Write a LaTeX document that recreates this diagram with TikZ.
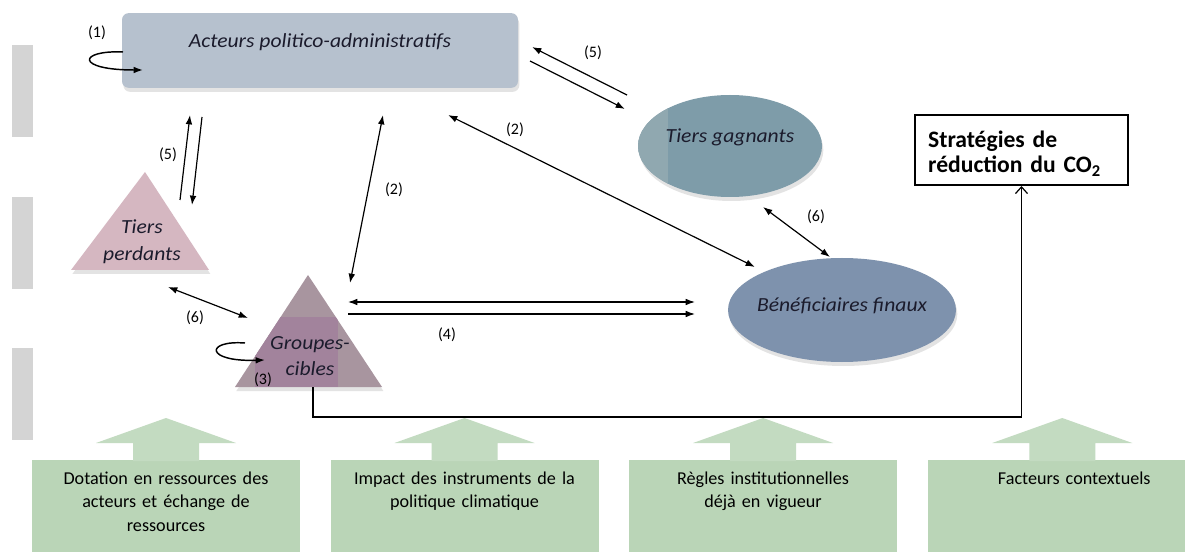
\documentclass[tikz,border=0pt]{standalone}
\usepackage{fontspec}
\setmainfont{Carlito}
\newfontfamily\shapefont[FakeStretch=1.08]{Carlito}
\usetikzlibrary{positioning, calc, arrows.meta, shapes.geometric, shadows}

\definecolor{acteurfill}{HTML}{B6C1CE}
\definecolor{perdfill}{HTML}{D5B7C1}
\definecolor{ciblegray}{HTML}{A8959F}
\definecolor{ciblemauve}{HTML}{A2839C}
\definecolor{gagnfill}{HTML}{7E9CA9}
\definecolor{gagnlight}{HTML}{90A8B0}
\definecolor{benefill}{HTML}{7E92AD}
\definecolor{facgreen}{HTML}{BAD5B7}
\definecolor{arrgreen}{HTML}{C3DBC1}
\definecolor{bargray}{HTML}{D4D4D4}
\definecolor{inkdark}{HTML}{1B1B2C}

\begin{document}
\begin{tikzpicture}[
    x=0.75pt, y=-0.75pt,
    soft/.style = {drop shadow={opacity=.22, shadow xshift=1pt, shadow yshift=-3pt}},
    actor/.style = {font=\shapefont\itshape\fontsize{15}{20}\selectfont, text=inkdark, inner sep=0pt, align=center},
    num/.style = {font=\fontsize{12}{14}\selectfont, inner sep=1pt},
    link/.style = {draw, line width=0.9pt, -{Latex[length=7pt, width=5pt]}},
    both/.style = {link, {Latex[length=7pt, width=5pt]}-{Latex[length=7pt, width=5pt]}},
    loopy/.style = {link, line width=1.1pt},
    factor/.style = {fill=facgreen, text width=201pt, align=center, inner sep=0pt,
        text height=18pt, text depth=80pt, anchor=north, font=\fontsize{13.6}{17.6}\selectfont}
]
    \useasboundingbox (0,0) rectangle (1185,552);
    \fill[white] (0,0) rectangle (1185,552);

    % grey tabs on the left
    \foreach \top in {45,197,348}
        \fill[bargray] (12,\top) rectangle (33,\top+92);

    \node (acteurs) [actor, fill=acteurfill, soft, rounded corners=5pt, minimum width=297pt,
        minimum height=56pt, text height=11pt, text depth=16.2pt] at (320,50.5)
        {Acteurs politico-administratifs};
    \node (gagnants) [actor, ellipse, fill=gagnfill, soft, minimum width=138pt, minimum height=76.5pt,
        inner xsep=-8pt, text height=11pt, text depth=15.5pt,
        path picture={\fill[gagnlight] (path picture bounding box.south west)
            rectangle ($(path picture bounding box.north west)+(30,0)$);}] at (730,146)
        {Tiers gagnants};
    \node (benef) [actor, ellipse, fill=benefill, soft, minimum width=171pt, minimum height=78pt,
        inner xsep=-6pt, text height=11pt, text depth=9.5pt] at (842,310)
        {Bénéficiaires finaux};
    \node (strat) [draw, line width=1.5pt, text width=140pt, inner xsep=9.75pt, inner ysep=0pt,
        minimum height=52.5pt, align=left, text height=18pt,
        font=\fontsize{17.7}{18.75}\selectfont\bfseries] at (1021.5,150)
        {Stratégies de\\réduction du CO\textsubscript{2}};

    % triangles
    \fill[perdfill, soft] (145,172) -- (209,270) -- (71,270) -- cycle;
    \fill[ciblegray, soft] (308,275) -- (382,387) -- (235,387) -- cycle;
    \begin{scope}
        \clip (308,275) -- (382,387) -- (235,387) -- cycle;
        \fill[ciblemauve] (255,317) rectangle (338,387);
    \end{scope}
    \node (perdants) [actor] at (142,242) {Tiers\\perdants};
    \node (cibles) [actor] at (310,356) {Groupes-\\cibles};

    % factors
    \node (res) [factor] at (166,460) {Dotation en ressources des\\acteurs et échange de\\ressources};
    \node (instr) [factor, right=22.5pt of res] {Impact des instruments de la\\politique climatique};
    \node (regles) [factor, right=22.5pt of instr] {Règles institutionnelles\\déjà en vigueur};
    \node (contexte) [factor, text width=220pt, right=22.5pt of regles] {Facteurs contextuels};
    \foreach \b/\dx in {res/0,instr/0,regles/0,contexte/-12}
        \fill[arrgreen] ($(\b.north)+(\dx,-42)$) -- ++(70,25) -- ++(-37,0) -- ++(0,18)
            -- ++(-66,0) -- ++(0,-18) -- ++(-37,0) -- cycle;

    % relations
    \draw[link] ($(perdants)+(38,-42)$) -- ($(acteurs)+(-130,64.5)$);
    \draw[link] ($(acteurs)+(-118,66.5)$) -- ($(perdants)+(50,-37)$);
    \draw[both] ($(acteurs)+(63,64.5)$) -- ($(cibles)+(40,-73)$);
    \draw[both] ($(acteurs)+(128,64.5)$) -- ($(benef)+(-87,-43)$);
    \draw[link] ($(gagnants)+(-103,-51)$) -- ($(acteurs)+(212,-3.5)$);
    \draw[link] ($(acteurs)+(210,10.5)$) -- ($(gagnants)+(-105,-37)$);
    \draw[both] ($(gagnants)+(33,61)$) -- ($(benef)+(-12,-53)$);
    \draw[both] ($(perdants)+(26,45)$) -- ($(cibles)+(-62,-38)$);
    \draw[both] ($(cibles)+(38,-54)$) -- ($(benef)+(-147,-8)$);
    \draw[link] ($(cibles)+(38,-42)$) -- ($(benef)+(-147,4)$);
    \draw[line width=0.9pt, -{Straight Barb[length=5pt, width=9pt]}]
        ($(cibles)+(3,31)$) -- ++(0,30) -| (strat.south);

    % self loops
    \draw[loopy] ($(acteurs)+(-197,1.5)$) .. controls ($(acteurs)+(-242,-0.5)$)
        and ($(acteurs)+(-245,19.5)$) .. ($(acteurs)+(-177,19.5)$);
    \draw[loopy] ($(cibles)+(-65,-13)$) .. controls ($(cibles)+(-105,-16)$)
        and ($(cibles)+(-105,6)$) .. ($(cibles)+(-45,4)$);

    \node (n1) [num] at (97,33) {(1)};
    \node (n5a) [num] at (168,155) {(5)};
    \node (n2a) [num] at (394,190) {(2)};
    \node (n2b) [num] at (515,130) {(2)};
    \node (n5b) [num] at (593,53) {(5)};
    \node (n6a) [num] at (816,217) {(6)};
    \node (n6b) [num] at (195,318) {(6)};
    \node (n4) [num] at (447,335) {(4)};
    \node (n3) [num] at (263,380) {(3)};
\end{tikzpicture}
\end{document}
